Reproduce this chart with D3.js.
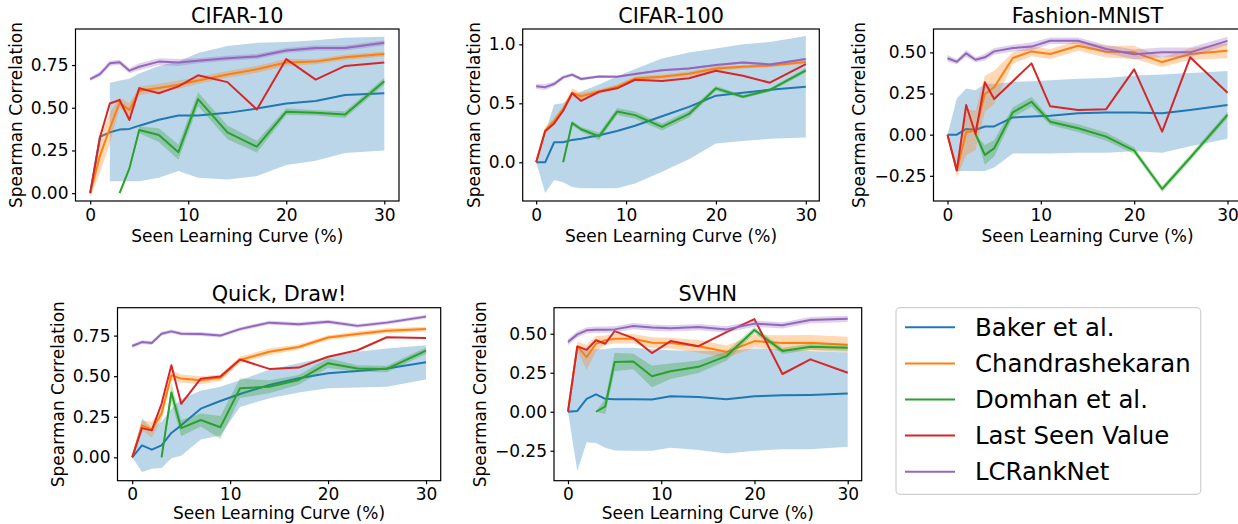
<!DOCTYPE html>
<html><head><meta charset="utf-8">
<script src="https://cdn.jsdelivr.net/npm/d3@7"></script>
<style>body{margin:0;background:#fff;overflow:hidden} text{font-family:"DejaVu Sans",sans-serif}</style>
</head><body><svg id="c" width="1238" height="524"></svg>
<script>
const xs = [0,1,2,3,4,5,7,9,11,14,17,20,23,26,30];
const methods = ["Baker et al.","Chandrashekaran","Domhan et al.","Last Seen Value","LCRankNet"];
const titles = ["CIFAR-10","CIFAR-100","Fashion-MNIST","Quick, Draw!","SVHN"];
const xTicks = [0,10,20,30];
const yTicks10 = [0,0.25,0.5,0.75];
const yTicks100 = [0,0.5,1.0];
const yTicksFM = [-0.25,0,0.25,0.5];
const yTicksQD = [0,0.25,0.5,0.75];
const yTicksSV = [-0.25,0,0.25,0.5];

// CIFAR-10
const c10_baker   = [0,0.33,0.356,0.372,0.376,0.395,0.43,0.454,0.455,0.47,0.495,0.525,0.54,0.575,0.585];
const c10_bakerLo = [null,null,0.07,0.07,0.07,0.07,0.09,0.13,0.09,0.08,0.10,0.165,0.19,0.235,0.25];
const c10_bakerHi = [null,null,0.645,0.66,0.67,0.70,0.745,0.77,0.82,0.862,0.88,0.885,0.895,0.91,0.915];
const c10_chandra    = [0,0.22,0.38,0.53,0.487,0.60,0.615,0.635,0.66,0.695,0.725,0.765,0.77,0.795,0.815];
const c10_chandraErr = [0.02,0.1,0.09,0.03,0.04,0.025,0.025,0.025,0.02,0.02,0.02,0.02,0.015,0.015,0.015];
const c10_domhan    = [null,null,null,0,0.145,0.37,0.34,0.24,0.55,0.356,0.272,0.477,0.47,0.46,0.655];
const c10_domhanErr = [null,null,null,0,0.01,0.02,0.04,0.045,0.04,0.04,0.035,0.02,0.015,0.02,0.02];
const c10_last = [0,0.327,0.525,0.545,0.428,0.615,0.585,0.625,0.69,0.65,0.49,0.785,0.665,0.745,0.765];
const c10_lcrank    = [0.668,0.697,0.76,0.766,0.717,0.74,0.77,0.765,0.775,0.79,0.80,0.835,0.85,0.85,0.88];
const c10_lcrankErr = [0.01,0.015,0.015,0.015,0.015,0.02,0.02,0.02,0.015,0.015,0.015,0.015,0.015,0.015,0.015];

// CIFAR-100
const c100_baker   = [0,0,0.17,0.17,0.19,0.20,0.23,0.265,0.31,0.39,0.47,0.565,0.59,0.615,0.64];
const c100_bakerLo = [0,-0.26,-0.15,-0.17,-0.21,-0.22,-0.22,-0.22,-0.18,-0.08,0.025,0.16,0.18,0.2,0.21];
const c100_bakerHi = [0,0.25,0.49,0.5,0.56,0.6,0.66,0.73,0.79,0.88,0.93,0.965,1.0,1.02,1.07];
const c100_chandra    = [0,0.27,0.35,0.45,0.59,0.56,0.60,0.64,0.71,0.725,0.75,0.795,0.81,0.82,0.85];
const c100_chandraErr = [0,0.03,0.03,0.03,0.035,0.03,0.02,0.02,0.02,0.02,0.02,0.02,0.015,0.015,0.015];
const c100_domhan    = [null,null,null,0,0.333,0.28,0.22,0.43,0.40,0.30,0.41,0.627,0.556,0.613,0.78];
const c100_domhanErr = [null,null,null,0,0.02,0.02,0.03,0.03,0.03,0.03,0.03,0.02,0.015,0.015,0.02];
const c100_last = [0,0.263,0.33,0.437,0.585,0.52,0.598,0.627,0.70,0.69,0.712,0.776,0.734,0.675,0.833];
const c100_lcrank    = [0.644,0.637,0.664,0.72,0.743,0.706,0.728,0.726,0.748,0.78,0.796,0.824,0.847,0.83,0.875];
const c100_lcrankErr = [0.02,0.025,0.02,0.015,0.015,0.015,0.01,0.01,0.01,0.01,0.01,0.01,0.01,0.01,0.01];

// Fashion-MNIST
const fm_baker   = [0,0,0.035,0.03,0.05,0.05,0.105,0.11,0.115,0.13,0.135,0.135,0.13,0.15,0.18];
const fm_bakerLo = [0,-0.22,-0.22,-0.22,-0.22,-0.20,-0.115,-0.115,-0.115,-0.11,-0.11,-0.10,-0.11,-0.07,-0.025];
const fm_bakerHi = [0,0.22,0.28,0.27,0.31,0.31,0.32,0.325,0.33,0.34,0.345,0.36,0.365,0.375,0.387];
const fm_chandra    = [0,-0.218,0.015,0.025,0.247,0.288,0.466,0.506,0.49,0.54,0.504,0.50,0.441,0.49,0.51];
const fm_chandraErr = [0,0.04,0.14,0.12,0.11,0.10,0.035,0.03,0.03,0.03,0.035,0.04,0.03,0.035,0.045];
const fm_domhan    = [null,null,null,0.004,-0.123,-0.083,0.136,0.2,0.079,0.039,-0.012,-0.097,-0.33,-0.14,0.12];
const fm_domhanErr = [null,null,null,0,0.06,0.05,0.03,0.03,0.02,0.025,0.025,0.02,0.02,0.02,0.02];
const fm_last = [0,-0.218,0.18,0.004,0.318,0.217,0.325,0.433,0.172,0.15,0.155,0.397,0.018,0.47,0.255];
const fm_lcrank    = [0.464,0.443,0.494,0.455,0.47,0.506,0.526,0.535,0.571,0.571,0.52,0.488,0.5,0.5,0.57];
const fm_lcrankErr = [0.02,0.015,0.02,0.015,0.02,0.02,0.02,0.025,0.02,0.02,0.025,0.03,0.03,0.03,0.025];

// Quick, Draw!
const qd_baker   = [0,0.074,0.047,0.074,0.15,0.197,0.30,0.347,0.39,0.446,0.487,0.518,0.532,0.547,0.586];
const qd_bakerLo = [0,-0.09,-0.07,-0.066,-0.005,0.01,0.11,0.135,0.31,0.364,0.40,0.425,0.43,0.435,0.48];
const qd_bakerHi = [0,0.24,0.18,0.22,0.30,0.36,0.41,0.435,0.475,0.54,0.58,0.62,0.65,0.67,0.69];
const qd_chandra    = [0,0.197,0.17,0.27,0.505,0.485,0.475,0.49,0.60,0.651,0.68,0.738,0.76,0.78,0.79];
const qd_chandraErr = [0,0.03,0.05,0.04,0.03,0.025,0.025,0.02,0.02,0.02,0.015,0.015,0.015,0.015,0.015];
const qd_domhan    = [null,null,null,0,0.40,0.18,0.23,0.185,0.425,0.435,0.477,0.58,0.548,0.545,0.657];
const qd_domhanErr = [null,null,null,0,0.06,0.05,0.04,0.07,0.06,0.04,0.03,0.03,0.02,0.02,0.02];
const qd_last = [0,0.18,0.166,0.33,0.567,0.33,0.485,0.498,0.603,0.545,0.553,0.62,0.66,0.74,0.735];
const qd_lcrank    = [0.686,0.71,0.704,0.762,0.776,0.762,0.76,0.75,0.79,0.83,0.82,0.835,0.81,0.83,0.867];
const qd_lcrankErr = [0.012,0.012,0.012,0.012,0.012,0.012,0.012,0.012,0.012,0.012,0.012,0.012,0.012,0.012,0.012];

// SVHN
const sv_baker   = [0,0.005,0.083,0.112,0.083,0.08,0.08,0.078,0.1,0.095,0.08,0.1,0.105,0.108,0.117];
const sv_bakerLo = [0,-0.38,-0.195,-0.2,-0.23,-0.248,-0.25,-0.25,-0.23,-0.245,-0.267,-0.25,-0.24,-0.24,-0.224];
const sv_bakerHi = [0,0.41,0.40,0.40,0.40,0.41,0.41,0.40,0.395,0.39,0.39,0.405,0.40,0.39,0.38];
const sv_chandra    = [0,0.419,0.35,0.436,0.458,0.468,0.468,0.442,0.44,0.42,0.384,0.453,0.44,0.442,0.43];
const sv_chandraErr = [0,0.03,0.08,0.05,0.03,0.03,0.03,0.035,0.035,0.04,0.04,0.04,0.05,0.05,0.05];
const sv_domhan    = [null,null,null,0,0.035,0.319,0.322,0.227,0.26,0.288,0.357,0.524,0.39,0.417,0.41];
const sv_domhanErr = [null,null,null,0,0.05,0.06,0.05,0.07,0.05,0.04,0.03,0.02,0.02,0.02,0.02];
const sv_last = [0,0.419,0.397,0.458,0.436,0.517,0.472,0.376,0.453,0.42,0.51,0.594,0.242,0.336,0.25];
const sv_lcrank    = [0.447,0.496,0.522,0.526,0.526,0.528,0.549,0.54,0.535,0.543,0.528,0.565,0.554,0.588,0.596];
const sv_lcrankErr = [0.02,0.02,0.02,0.02,0.02,0.02,0.02,0.02,0.02,0.02,0.02,0.02,0.02,0.02,0.02];

// ---------- layout (not data) ----------
const colors = ["#1f77b4","#ff7f0e","#2ca02c","#d62728","#9467bd"];
const panels = [
  {box:[75.5,29,399,201], yDomain:[-0.046,0.961], ticks:yTicks10, fmt:".2f", xlab:41.3,
   s:[[c10_baker,c10_bakerLo,c10_bakerHi],[c10_chandra,c10_chandraErr],[c10_domhan,c10_domhanErr],[c10_last],[c10_lcrank,c10_lcrankErr]]},
  {box:[522.7,29,819.3,201], yDomain:[-0.328,1.13], ticks:yTicks100, fmt:".1f", xlab:41.3,
   s:[[c100_baker,c100_bakerLo,c100_bakerHi],[c100_chandra,c100_chandraErr],[c100_domhan,c100_domhanErr],[c100_last],[c100_lcrank,c100_lcrankErr]]},
  {box:[933.5,29,1241.5,201], yDomain:[-0.403,0.642], ticks:yTicksFM, fmt:".2f", xlab:41.3,
   s:[[fm_baker,fm_bakerLo,fm_bakerHi],[fm_chandra,fm_chandraErr],[fm_domhan,fm_domhanErr],[fm_last],[fm_lcrank,fm_lcrankErr]]},
  {box:[117.5,307.7,440.7,480.7], yDomain:[-0.144,0.922], ticks:yTicksQD, fmt:".2f", xlab:38.6,
   s:[[qd_baker,qd_bakerLo,qd_bakerHi],[qd_chandra,qd_chandraErr],[qd_domhan,qd_domhanErr],[qd_last],[qd_lcrank,qd_lcrankErr]]},
  {box:[554,307.7,861.7,480.7], yDomain:[-0.442,0.667], ticks:yTicksSV, fmt:".2f", xlab:38.6,
   s:[[sv_baker,sv_bakerLo,sv_bakerHi],[sv_chandra,sv_chandraErr],[sv_domhan,sv_domhanErr],[sv_last],[sv_lcrank,sv_lcrankErr]]}
];

const svg = d3.select("#c");
const defs = svg.append("defs");
const FONT = "DejaVu Sans";

panels.forEach((p,i)=>{
  const [l,t,r,b] = p.box;
  const x = d3.scaleLinear().domain([-1.5,31.5]).range([l,r]);
  const y = d3.scaleLinear().domain(p.yDomain).range([b,t]);
  defs.append("clipPath").attr("id","clip"+i).append("rect")
    .attr("x",l).attr("y",t).attr("width",r-l).attr("height",b-t);
  const g = svg.append("g");
  const plot = g.append("g").attr("clip-path",`url(#clip${i})`);

  p.s.forEach((s,k)=>{
    const [vals,a,c] = s;
    const pts = xs.map((xv,j)=>{
      const v = vals[j];
      let lo=null, hi=null;
      if (c) { lo=a[j]; hi=c[j]; }
      else if (a && v!=null && a[j]!=null) { lo=v-a[j]; hi=v+a[j]; }
      return {x:xv, v, lo, hi};
    });
    if (a) {
      const area = d3.area().defined(d=>d.lo!=null && d.hi!=null)
        .x(d=>x(d.x)).y0(d=>y(d.lo)).y1(d=>y(d.hi));
      plot.append("path").datum(pts).attr("d",area)
        .attr("fill",colors[k]).attr("fill-opacity",0.3);
    }
    const line = d3.line().defined(d=>d.v!=null).x(d=>x(d.x)).y(d=>y(d.v));
    plot.append("path").datum(pts).attr("d",line)
      .attr("fill","none").attr("stroke",colors[k]).attr("stroke-width",2)
      .attr("stroke-linejoin","round").attr("stroke-linecap","butt");
  });

  g.append("rect").attr("x",l).attr("y",t).attr("width",r-l).attr("height",b-t)
    .attr("fill","none").attr("stroke","#000").attr("stroke-width",1.2);

  const xg = g.append("g").attr("transform",`translate(0,${b})`)
    .call(d3.axisBottom(x).tickValues(xTicks).tickSize(3.5).tickPadding(4).tickFormat(d3.format("d")));
  const yg = g.append("g").attr("transform",`translate(${l},0)`)
    .call(d3.axisLeft(y).tickValues(p.ticks).tickSize(3.5).tickPadding(3.5).tickFormat(d3.format(p.fmt)));
  [xg,yg].forEach(ag=>{
    ag.attr("font-family",FONT).attr("font-size",17);
    ag.select(".domain").remove();
    ag.selectAll(".tick line").attr("stroke","#000").attr("stroke-width",1.2);
    ag.selectAll(".tick text").attr("fill","#000");
  });

  const bb = yg.node().getBBox();
  g.append("text").attr("transform",`translate(${l+bb.x-9},${(t+b)/2}) rotate(-90)`)
    .attr("text-anchor","middle").attr("font-size",17).attr("fill","#000")
    .text("Spearman Correlation");
  g.append("text").attr("x",(l+r)/2).attr("y",b+p.xlab).attr("text-anchor","middle")
    .attr("font-size",17).attr("fill","#000").text("Seen Learning Curve (%)");
  g.append("text").attr("x",(l+r)/2).attr("y",t-6.3).attr("text-anchor","middle")
    .attr("font-size",20.8).attr("fill","#000").text(titles[i]);
});

const lg = svg.append("g");
lg.append("rect").attr("x",896).attr("y",307.7).attr("width",304.7).attr("height",186.6)
  .attr("rx",4).attr("fill","#fff").attr("fill-opacity",0.8).attr("stroke","#d0d0d0").attr("stroke-width",1.2);
methods.forEach((m,k)=>{
  const yy = 327.3 + k*36.1;
  lg.append("line").attr("x1",905).attr("x2",955).attr("y1",yy).attr("y2",yy)
    .attr("stroke",colors[k]).attr("stroke-width",2);
  lg.append("text").attr("x",975).attr("y",yy).attr("dy","0.36em")
    .attr("font-size",24.4).attr("fill","#000").text(m);
});
</script></body></html>
